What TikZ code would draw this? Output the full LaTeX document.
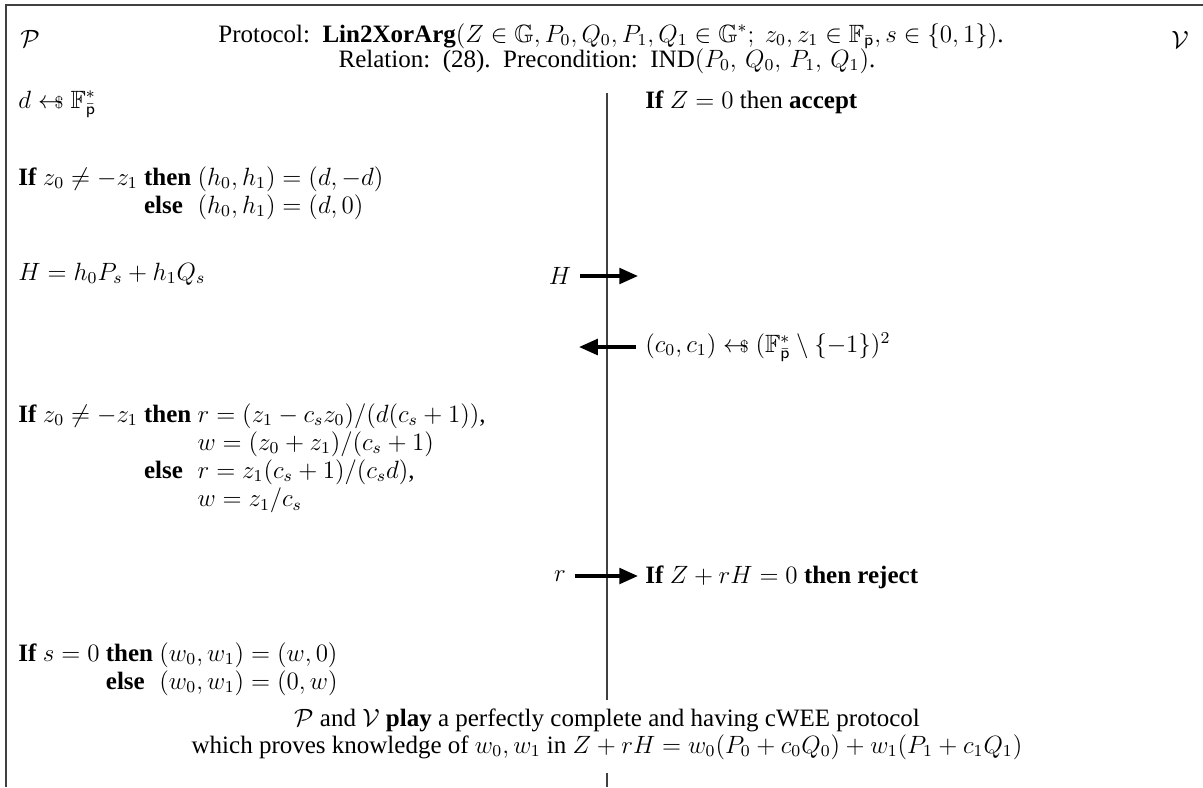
\documentclass[12pt,tikz,border=0pt]{standalone}
\usepackage{amsmath,amssymb}
\usepackage{fontspec}
\setmainfont{Liberation Serif}
\usepackage{tikz}
\usetikzlibrary{arrows.meta}
\newcommand{\smpl}{\mathrel{\leftarrow\mkern-11mu{\scriptstyle\$}}}
\newcommand{\Fpb}{\mathbb{F}_{\bar{\mathsf{p}}}}
\tikzset{
  rule/.style={black!75, line width=0.8pt},
  msg/.style={line width=1.7pt, -{Triangle[length=9pt,width=7.5pt]}},
  txt/.style={inner sep=0pt, anchor=base west},
}
\renewcommand{\arraystretch}{0.93}

\begin{document}
\begin{tikzpicture}[x=0.48pt, y=-0.48pt]
  \useasboundingbox (0,0) rectangle (1203,787);
  % top and left rules of the frame, then the party divider
  \draw[rule] (1203,5) -- (6,5) -- (6,787);
  \coordinate (divtop) at (607,93);
  \coordinate (divbot) at (607,700);
  \coordinate (ticktop) at (607,773);
  \coordinate (tickbot) at (607,787);
  \draw[rule] (divtop) -- (divbot);
  \draw[rule] (ticktop) -- (tickbot);

  \node (prover) at (30,39) {$\mathcal{P}$};
  \node (verifier) at (1180,40) {$\mathcal{V}$};
  \node[inner sep=0pt, anchor=base] (title) at (611,42)
    {Protocol:\ \ \textbf{Lin2XorArg}$(Z\in\mathbb{G}, P_0, Q_0, P_1, Q_1\in\mathbb{G}^*;\ z_0, z_1\in\Fpb, s\in\{0,1\})$.};
  \node[inner sep=0pt, anchor=base] (relation) at (607,67)
    {Relation:\ \ (28).\ \ Precondition:\ \ IND$(P_0,\,Q_0,\,P_1,\,Q_1)$.};

  % prover side
  \node[txt] (sampd) at (18,108) {$d \smpl \mathbb{F}^*_{\bar{\mathsf{p}}}$};
  \node[txt] (hcase) at (18,185) {\begin{tabular}[t]{@{}l@{\ }l@{\ }l@{}}
      \textbf{If} $z_0\neq -z_1$ & \textbf{then} & $(h_0,h_1)=(d,-d)$\\
      & \textbf{else} & $(h_0,h_1)=(d,0)$
    \end{tabular}};
  \node[txt] (hdef) at (18,280) {$H = h_0P_s + h_1Q_s$};
  \node[txt] (rcase) at (18,422) {\begin{tabular}[t]{@{}l@{\ }l@{\ }l@{}}
      \textbf{If} $z_0\neq -z_1$ & \textbf{then} & $r=(z_1-c_sz_0)/(d(c_s+1))$,\\
      & & $w=(z_0+z_1)/(c_s+1)$\\
      & \textbf{else} & $r=z_1(c_s+1)/(c_sd)$,\\
      & & $w=z_1/c_s$
    \end{tabular}};
  \node[txt] (wcase) at (18,661) {\begin{tabular}[t]{@{}l@{\ }l@{\ }l@{}}
      \textbf{If} $s=0$ & \textbf{then} & $(w_0,w_1)=(w,0)$\\
      & \textbf{else} & $(w_0,w_1)=(0,w)$
    \end{tabular}};

  % verifier side
  \node[txt] (acc) at (645,108) {\textbf{If} $Z=0$ then \textbf{accept}};
  \node[anchor=west, inner sep=0pt] (chal) at (645,347)
    {$(c_0,c_1) \smpl (\mathbb{F}^*_{\bar{\mathsf{p}}}\setminus\{-1\})^2$};
  \node[txt] (rej) at (645,583) {\textbf{If} $Z+rH=0$ \textbf{then reject}};

  % messages
  \node (hmsg) at (560,276) {$H$};
  \coordinate (hend) at (638,276);
  \draw[msg] (hmsg) -- (hend);
  \coordinate (cstart) at (636,347);
  \coordinate (cend) at (579,347);
  \draw[msg] (cstart) -- (cend);
  \node (rmsg) at (560,576) {$r$};
  \coordinate (rend) at (638,576);
  \draw[msg] (rmsg) -- (rend);

  \node[inner sep=0pt, anchor=base] (play) at (607,726)
    {$\mathcal{P}$ and $\mathcal{V}$ \textbf{play} a perfectly complete and having cWEE protocol};
  \node[inner sep=0pt, anchor=base] (proves) at (607,753)
    {which proves knowledge of $w_0,w_1$ in $Z+rH=w_0(P_0+c_0Q_0)+w_1(P_1+c_1Q_1)$};
\end{tikzpicture}
\end{document}
